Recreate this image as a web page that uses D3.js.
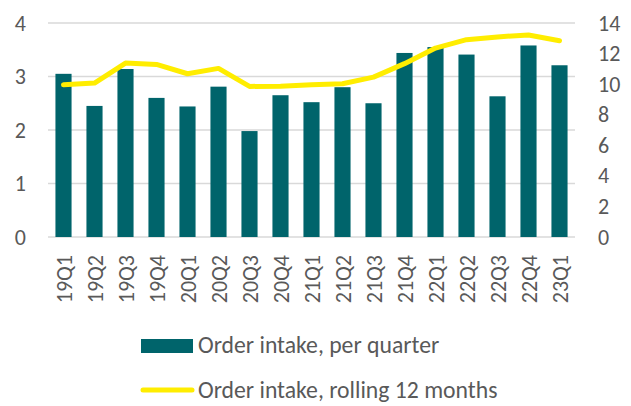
<!DOCTYPE html>
<html>
<head>
<meta charset="utf-8">
<script src="https://cdn.jsdelivr.net/npm/d3@7"></script>
<style>
  body { margin: 0; background: #fff; }
  text { font-family: Carlito, Calibri, "Noto Sans", sans-serif; fill: #595959; }
</style>
</head>
<body>
<div id="chart"></div>
<script>
const WIDTH = 631;
const HEIGHT = 406;
const MARGIN = { TOP: 23, LEFT: 48, RIGHT: 56, BOTTOM: 169 };

// data
const quarters = ['19Q1', '19Q2', '19Q3', '19Q4', '20Q1', '20Q2', '20Q3', '20Q4',
                  '21Q1', '21Q2', '21Q3', '21Q4', '22Q1', '22Q2', '22Q3', '22Q4', '23Q1'];
const perQuarter = [3.05, 2.45, 3.14, 2.60, 2.44, 2.81, 1.98, 2.65,
                    2.52, 2.80, 2.50, 3.44, 3.55, 3.41, 2.63, 3.58, 3.21];
const rolling12 = [9.96, 10.07, 11.38, 11.29, 10.68, 11.03, 9.85, 9.87,
                   9.96, 10.03, 10.46, 11.34, 12.36, 12.91, 13.09, 13.22, 12.84];
const leftTicks = [0, 1, 2, 3, 4];
const rightTicks = [0, 2, 4, 6, 8, 10, 12, 14];
const legendLabels = ['Order intake, per quarter', 'Order intake, rolling 12 months'];

const BAR_COLOUR = '#00646B';
const LINE_COLOUR = '#FFED00';
const GRID_COLOUR = '#D9D9D9';

const width = WIDTH - MARGIN.LEFT - MARGIN.RIGHT;
const height = HEIGHT - MARGIN.TOP - MARGIN.BOTTOM;

const svg = d3.select('#chart')
  .append('svg')
    .attr('width', WIDTH)
    .attr('height', HEIGHT);

const g = svg.append('g')
    .attr('transform', `translate(${MARGIN.LEFT}, ${MARGIN.TOP})`);

const x = d3.scaleBand()
  .domain(quarters)
  .range([0, width])
  .paddingInner(0.48)
  .paddingOuter(0.24);

const yLeft = d3.scaleLinear().domain([0, 4]).range([height, 0]);
const yRight = d3.scaleLinear().domain([0, 14]).range([height, 0]);

//gridlines
g.append('g')
  .selectAll('line')
  .data(leftTicks)
  .enter().append('line')
    .attr('x1', 0)
    .attr('x2', width)
    .attr('y1', d => yLeft(d))
    .attr('y2', d => yLeft(d))
    .style('stroke', GRID_COLOUR)
    .style('stroke-width', 1.3);

//bars
g.append('g')
  .selectAll('rect')
  .data(perQuarter)
  .enter().append('rect')
    .attr('x', (d, i) => x(quarters[i]))
    .attr('y', d => yLeft(d))
    .attr('width', x.bandwidth())
    .attr('height', d => height - yLeft(d))
    .attr('fill', BAR_COLOUR);

//rolling line
const line = d3.line()
  .x((d, i) => x(quarters[i]) + x.bandwidth() / 2)
  .y(d => yRight(d));

g.append('path')
  .datum(rolling12)
  .attr('d', line)
  .attr('fill', 'none')
  .attr('stroke', LINE_COLOUR)
  .attr('stroke-width', 5)
  .attr('stroke-linejoin', 'round')
  .attr('stroke-linecap', 'round');

//left axis
const leftAxis = g.append('g')
  .call(d3.axisLeft(yLeft).tickValues(leftTicks).tickFormat(d3.format('d')).tickSize(0).tickPadding(22));
leftAxis.select('.domain').remove();
leftAxis.selectAll('text').style('font-size', '22px');

//right axis
const rightAxis = g.append('g')
  .attr('transform', `translate(${width}, 0)`)
  .call(d3.axisRight(yRight).tickValues(rightTicks).tickFormat(d3.format('d')).tickSize(0).tickPadding(23));
rightAxis.select('.domain').remove();
rightAxis.selectAll('text').style('font-size', '22px');
leftAxis.attr('font-family', null);
rightAxis.attr('font-family', null);

//x labels, rotated
g.append('g')
  .selectAll('text')
  .data(quarters)
  .enter().append('text')
    .attr('transform', d => `translate(${x(d) + x.bandwidth() / 2 + 8}, ${height + 18}) rotate(-90)`)
    .attr('text-anchor', 'end')
    .style('font-size', '22px')
    .text(d => d);

//legend
const legend = svg.append('g').attr('transform', 'translate(141, 339)');

legend.append('rect')
  .attr('x', 0)
  .attr('y', 0)
  .attr('width', 52)
  .attr('height', 14)
  .attr('fill', BAR_COLOUR);

legend.append('line')
  .attr('x1', 2)
  .attr('x2', 51)
  .attr('y1', 51)
  .attr('y2', 51)
  .attr('stroke', LINE_COLOUR)
  .attr('stroke-width', 5)
  .attr('stroke-linecap', 'round');

legend.selectAll('.label')
  .data(legendLabels)
  .enter().append('text')
    .attr('class', 'label')
    .attr('x', 57)
    .attr('y', (d, i) => 14 + i * 45)
    .style('font-size', '23.7px')
    .text(d => d);
</script>
</body>
</html>
